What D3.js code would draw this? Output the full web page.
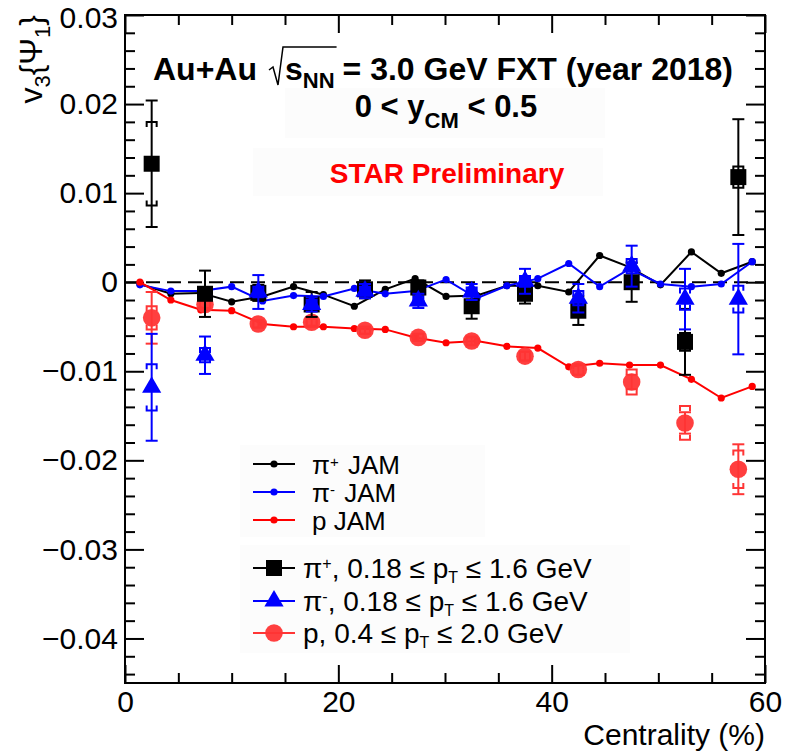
<!DOCTYPE html>
<html><head><meta charset="utf-8">
<script src="https://cdn.jsdelivr.net/npm/d3@7"></script>
<style>body{margin:0;background:#fff}svg{display:block}text{font-family:"Liberation Sans",Arial,Helvetica,sans-serif}</style>
</head><body><svg id="c" width="787" height="754"></svg>
<script>
// ---------- data ----------
const centrality = [2.5, 7.5, 12.5, 17.5, 22.5, 27.5, 32.5, 37.5, 42.5, 47.5, 52.5, 57.5];
const piPlus      = [0.0133, -0.0013, -0.0012, -0.0025, -0.0008, -0.0006, -0.0027, -0.0013, -0.0032, 0.0000, -0.0067, 0.0118];
const piPlusStat  = [0.0071, 0.0026, 0.0009, 0.0014, 0.0010, 0.0008, 0.0014, 0.0011, 0.0016, 0.0022, 0.0037, 0.0065];
const piPlusSys   = [0.0047, 0.0006, 0.0005, 0.0005, 0.0005, 0.0005, 0.0005, 0.0005, 0.0005, 0.0006, 0.0010, 0.0012];
const piMinus     = [-0.0118, -0.0082, -0.0011, -0.0025, -0.0010, -0.0021, -0.0011, 0.0001, -0.0018, 0.0018, -0.0019, -0.0019];
const piMinusStat = [0.0060, 0.0021, 0.0019, 0.0008, 0.0008, 0.0008, 0.0009, 0.0014, 0.0016, 0.0023, 0.0034, 0.0062];
const piMinusSys  = [0.0026, 0.0008, 0.0006, 0.0005, 0.0005, 0.0005, 0.0005, 0.0006, 0.0008, 0.0008, 0.0012, 0.0015];
const proton      = [-0.0040, -0.0025, -0.0047, -0.0045, -0.0054, -0.0062, -0.0066, -0.0083, -0.0098, -0.0112, -0.0158, -0.0210];
const protonStat  = [0.0029, 0.0005, 0.0004, 0.0004, 0.0004, 0.0004, 0.0005, 0.0005, 0.0006, 0.0008, 0.0012, 0.0028];
const protonSys   = [0.0013, 0.0004, 0.0004, 0.0004, 0.0004, 0.0004, 0.0004, 0.0005, 0.0006, 0.0014, 0.0019, 0.0021];

const jamCentrality = [1.4, 4.3, 7.1, 10.0, 12.9, 15.8, 18.6, 21.5, 24.4, 27.2, 30.1, 33.0, 35.8, 38.7, 41.6, 44.5, 47.3, 50.2, 53.1, 55.9, 58.8];
const jamPiPlus  = [-0.0002, -0.0013, -0.0012, -0.0022, -0.0016, -0.0005, -0.0014, -0.0027, -0.0008, 0.0004, -0.0016, -0.0015, -0.0004, -0.0004, -0.0011, 0.0030, 0.0017, -0.0003, 0.0034, 0.0010, 0.0023];
const jamPiMinus = [-0.0003, -0.0010, -0.0010, -0.0005, -0.0021, -0.0015, -0.0016, -0.0007, -0.0013, -0.0010, 0.0003, -0.0018, -0.0004, 0.0004, 0.0021, -0.0005, 0.0015, -0.0002, -0.0005, -0.0002, 0.0023];
const jamProton  = [0.0000, -0.0020, -0.0031, -0.0032, -0.0047, -0.0050, -0.0050, -0.0052, -0.0053, -0.0062, -0.0068, -0.0066, -0.0072, -0.0074, -0.0095, -0.0091, -0.0093, -0.0093, -0.0109, -0.0130, -0.0117];

const xTickValues = [0, 20, 40, 60];
const xTickLabels = ["0", "20", "40", "60"];
const yTickValues = [0.03, 0.02, 0.01, 0, -0.01, -0.02, -0.03, -0.04];
const yTickLabels = ["0.03", "0.02", "0.01", "0", "\u22120.01", "\u22120.02", "\u22120.03", "\u22120.04"];
const xAxisTitle = "Centrality (%)";

// ---------- layout ----------
const svg = d3.select("#c");
const L = 125, R = 765, T = 15, B = 683;
const x = d3.scaleLinear().domain([0, 60]).range([L, R]);
const y = d3.scaleLinear().domain([-0.045, 0.03]).range([B, T]);
const BLACK = "#000", BLUE = "#0000ff", RED = "#ff0000", RED2 = "#ff3535";
const FONT = '"Liberation Sans",Arial,sans-serif';

// very faint boxes behind texts / legends
const faint = "#fcfcfc";
[[285, 88, 320, 50], [253, 148, 350, 48], [240, 445, 245, 92], [240, 545, 390, 108]].forEach(b =>
  svg.append("rect").attr("x", b[0]).attr("y", b[1]).attr("width", b[2]).attr("height", b[3]).attr("fill", faint));

// ---------- axes ----------
svg.append("g").attr("transform", `translate(0,${B})`)
  .call(d3.axisBottom(x).tickValues(xTickValues).tickFormat((d, i) => xTickLabels[i]).tickSize(-18).tickPadding(8));
const xMinor = d3.range(0, 61, 5).filter(v => v % 20 !== 0);
svg.append("g").attr("transform", `translate(0,${B})`).call(d3.axisBottom(x).tickValues(xMinor).tickFormat("").tickSize(-10));
svg.append("g").attr("transform", `translate(0,${T})`).call(d3.axisTop(x).tickValues(xTickValues).tickFormat("").tickSize(-18));
svg.append("g").attr("transform", `translate(0,${T})`).call(d3.axisTop(x).tickValues(xMinor).tickFormat("").tickSize(-10));

const gy = svg.append("g").attr("transform", `translate(${L},0)`)
  .call(d3.axisLeft(y).tickValues(yTickValues).tickFormat((d, i) => yTickLabels[i]).tickSize(-19).tickPadding(7));
const yMinor = d3.range(-44, 31, 2).map(v => v / 1000).filter(v => Math.abs(Math.round(v * 1000)) % 10 !== 0);
svg.append("g").attr("transform", `translate(${L},0)`).call(d3.axisLeft(y).tickValues(yMinor).tickFormat("").tickSize(-10));
svg.append("g").attr("transform", `translate(${R},0)`).call(d3.axisRight(y).tickValues(yTickValues).tickFormat("").tickSize(-19));
svg.append("g").attr("transform", `translate(${R},0)`).call(d3.axisRight(y).tickValues(yMinor).tickFormat("").tickSize(-10));

svg.selectAll(".domain").remove();
svg.selectAll(".tick line").attr("stroke", BLACK).attr("stroke-width", 2);
svg.selectAll(".tick text").attr("font-size", 30).attr("fill", BLACK).attr("font-family", FONT);
gy.selectAll(".tick text").filter(d => d === 0.03).attr("dy", "0.42em");
svg.append("rect").attr("x", L).attr("y", T).attr("width", R - L).attr("height", B - T)
  .attr("fill", "none").attr("stroke", BLACK).attr("stroke-width", 2);

// axis titles
svg.append("text").attr("x", R).attr("y", 745).attr("text-anchor", "end").attr("font-size", 30).text(xAxisTitle);
const yl = svg.append("text").attr("transform", "translate(42,15) rotate(-90)").attr("text-anchor", "end").attr("font-size", 32);
yl.append("tspan").text("v");
yl.append("tspan").attr("font-size", 22).attr("dy", 8).text("3");
yl.append("tspan").attr("dy", -8).text("{\u03A8");
yl.append("tspan").attr("font-size", 22).attr("dy", 8).text("1");
yl.append("tspan").attr("dy", -8).text("}");

// zero line
svg.append("line").attr("x1", L).attr("x2", R).attr("y1", y(0)).attr("y2", y(0))
  .attr("stroke", BLACK).attr("stroke-width", 2).attr("stroke-dasharray", "14,7");

// ---------- title texts ----------
svg.append("text").attr("x", 153).attr("y", 80).attr("font-weight", "bold").attr("font-size", 32).text("Au+Au");
const t2 = svg.append("text").attr("x", 285).attr("y", 80).attr("font-weight", "bold").attr("font-size", 32);
t2.append("tspan").text("s");
t2.append("tspan").attr("font-size", 22).attr("dy", 8).text("NN");
t2.append("tspan").attr("dy", -8).attr("dx", 8).text("= 3.0 GeV FXT (year 2018)");
const nnEnd = t2.node().getEndPositionOfChar(2).x;
svg.append("path").attr("d", `M269,70 L273,67 L278,85 L283,47 L${nnEnd + 2},47`)
  .attr("fill", "none").attr("stroke", BLACK).attr("stroke-width", 1.5);

const t3 = svg.append("text").attr("x", 446).attr("y", 117).attr("text-anchor", "middle").attr("font-weight", "bold").attr("font-size", 31);
t3.append("tspan").text("0 < y");
t3.append("tspan").attr("font-size", 22).attr("dy", 11).text("CM");
t3.append("tspan").attr("dy", -11).text(" < 0.5");

svg.append("text").attr("x", 447).attr("y", 183).attr("text-anchor", "middle").attr("font-weight", "bold")
  .attr("font-size", 28).attr("fill", RED).text("STAR Preliminary");

// ---------- JAM lines ----------
const jamSeries = [
  {vals: jamPiPlus, color: BLACK},
  {vals: jamPiMinus, color: BLUE},
  {vals: jamProton, color: RED}
];
const line = d3.line().x(d => x(d[0])).y(d => y(d[1]));
jamSeries.forEach(s => {
  const pts = jamCentrality.map((c, i) => [c, s.vals[i]]);
  svg.append("path").attr("d", line(pts)).attr("fill", "none").attr("stroke", s.color).attr("stroke-width", 2);
  svg.append("g").selectAll("circle").data(pts).join("circle")
    .attr("cx", d => x(d[0])).attr("cy", d => y(d[1])).attr("r", 3.6).attr("fill", s.color);
});

// ---------- measured ----------
function drawMeasured(vals, stat, sys, color, markerFn) {
  const g = svg.append("g");
  centrality.forEach((c, i) => {
    const cx = x(c), v = vals[i];
    g.append("line").attr("x1", cx).attr("x2", cx).attr("y1", y(v + stat[i])).attr("y2", y(v - stat[i]))
      .attr("stroke", color).attr("stroke-width", 2);
    [v + stat[i], v - stat[i]].forEach(e => g.append("line").attr("x1", cx - 6).attr("x2", cx + 6)
      .attr("y1", y(e)).attr("y2", y(e)).attr("stroke", color).attr("stroke-width", 2));
    const yt = y(v + sys[i]), yb = y(v - sys[i]);
    g.append("path").attr("d", `M${cx - 5},${yt + 5} L${cx - 5},${yt} L${cx + 5},${yt} L${cx + 5},${yt + 5}`)
      .attr("fill", "none").attr("stroke", color).attr("stroke-width", 2);
    g.append("path").attr("d", `M${cx - 5},${yb - 5} L${cx - 5},${yb} L${cx + 5},${yb} L${cx + 5},${yb - 5}`)
      .attr("fill", "none").attr("stroke", color).attr("stroke-width", 2);
    markerFn(g, cx, y(v));
  });
}
const sq = (g, cx, cy) => g.append("rect").attr("x", cx - 8).attr("y", cy - 8).attr("width", 16).attr("height", 16).attr("fill", BLACK);
const tri = (g, cx, cy) => g.append("path").attr("d", d3.symbol(d3.symbolTriangle, 160)()).attr("transform", `translate(${cx},${cy})`).attr("fill", BLUE);
const circ = (g, cx, cy) => g.append("circle").attr("cx", cx).attr("cy", cy).attr("r", 8.8).attr("fill", RED2).attr("fill-opacity", 0.95);

drawMeasured(proton, protonStat, protonSys, RED2, circ);
drawMeasured(piPlus, piPlusStat, piPlusSys, BLACK, sq);
drawMeasured(piMinus, piMinusStat, piMinusSys, BLUE, tri);

// ---------- legends ----------
const legend1 = [
  {name: ["\u03C0", "+", " JAM"], color: BLACK},
  {name: ["\u03C0", "-", " JAM"], color: BLUE},
  {name: ["p JAM", "", ""], color: RED}
];
const legend1Y = [464, 492, 520];
legend1.forEach((e, i) => {
  const yy = legend1Y[i];
  svg.append("line").attr("x1", 253).attr("x2", 295).attr("y1", yy).attr("y2", yy).attr("stroke", e.color).attr("stroke-width", 2);
  svg.append("circle").attr("cx", 274).attr("cy", yy).attr("r", 3.6).attr("fill", e.color);
  const t = svg.append("text").attr("x", 312).attr("y", yy + 10).attr("font-size", 26);
  t.append("tspan").text(e.name[0]);
  if (e.name[1]) t.append("tspan").attr("font-size", 15).attr("dy", -7).text(e.name[1]);
  if (e.name[2]) t.append("tspan").attr("dy", e.name[1] ? 7 : 0).attr("dx", 2).text(e.name[2]);
});

const legend2 = [
  {pre: "\u03C0", sup: "+", mid: ", 0.18 \u2264 p", post: " \u2264 1.6 GeV", color: BLACK, m: sq},
  {pre: "\u03C0", sup: "-", mid: ", 0.18 \u2264 p", post: " \u2264 1.6 GeV", color: BLUE, m: tri},
  {pre: "p", sup: "", mid: ", 0.4 \u2264 p", post: " \u2264 2.0 GeV", color: RED2, m: circ}
];
const legend2Y = [568, 601, 633];
legend2.forEach((e, i) => {
  const yy = legend2Y[i];
  const g = svg.append("g");
  g.append("line").attr("x1", 253).attr("x2", 295).attr("y1", yy).attr("y2", yy).attr("stroke", e.color).attr("stroke-width", 2);
  e.m(g, 274, yy);
  const t = svg.append("text").attr("x", 303).attr("y", yy + 10).attr("font-size", 28);
  t.append("tspan").text(e.pre);
  if (e.sup) {
    t.append("tspan").attr("font-size", 16).attr("dy", -9).text(e.sup);
    t.append("tspan").attr("dy", 9).text(e.mid);
  } else t.append("tspan").text(e.mid);
  t.append("tspan").attr("font-size", 16).attr("dy", 5).text("T");
  t.append("tspan").attr("dy", -5).text(e.post);
});
</script></body></html>
